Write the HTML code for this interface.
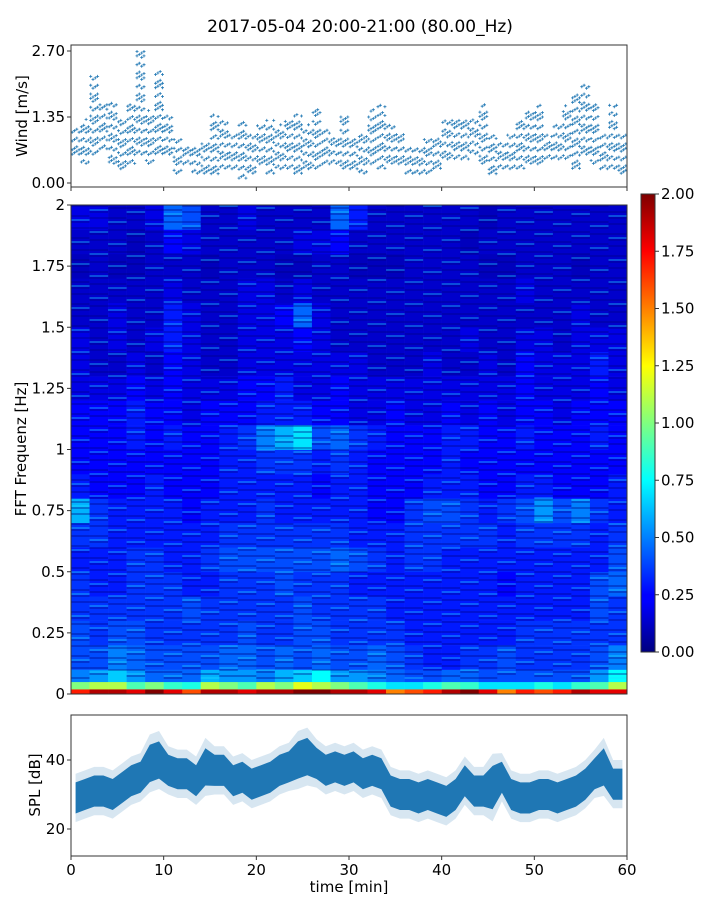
<!DOCTYPE html>
<html><head><meta charset="utf-8"><style>
body{margin:0;background:#fff;}
text{font-family:"DejaVu Sans","Liberation Sans",sans-serif;fill:#000;}
</style></head><body>
<svg id="fig" width="720" height="900" viewBox="0 0 720 900" xmlns="http://www.w3.org/2000/svg">
<defs>
<linearGradient id="jetg" x1="0" y1="1" x2="0" y2="0">
<stop offset="0" stop-color="#00007f"/><stop offset="0.11" stop-color="#0000ff"/><stop offset="0.125" stop-color="#0000ff"/>
<stop offset="0.375" stop-color="#00ffff"/><stop offset="0.625" stop-color="#ffff00"/><stop offset="0.875" stop-color="#ff0000"/><stop offset="1" stop-color="#7f0000"/>
</linearGradient>
</defs>
<text x="360" y="32" font-size="17" text-anchor="middle">2017-05-04 20:00-21:00 (80.00_Hz)</text>
<g id="wind"></g>
<g id="spec"></g>
<g id="cbar"></g>
<g id="spl"></g>
</svg>
<script>
// ---------- data ----------
const windLo=[0.5,0.4,0.5,0.7,0.4,0.2,0.4,0.5,0.4,0.6,0.5,0.2,0.3,0.2,0.2,0.1,0.3,0.2,0.1,0.2,0.3,0.2,0.2,0.3,0.2,0.2,0.3,0.3,0.4,0.3,0.2,0.2,0.3,0.3,0.4,0.3,0.2,0.1,0.2,0.3,0.4,0.5,0.4,0.6,0.4,0.1,0.3,0.2,0.3,0.4,0.3,0.5,0.4,0.5,0.3,0.5,0.4,0.2,0.3,0.2];
const windHi=[1.1,1.3,2.2,1.6,1.7,1.3,1.6,2.7,1.5,2.3,1.4,0.9,0.8,0.8,0.8,1.4,1.3,1.0,1.3,1.0,1.2,1.3,1.2,1.3,1.4,1.2,1.5,1.1,1.0,1.4,1.0,1.0,1.5,1.6,1.2,1.0,0.8,0.8,0.9,1.0,1.3,1.3,1.3,1.4,1.6,1.0,0.9,1.0,1.3,1.5,1.6,1.0,1.2,1.6,1.8,2.0,1.6,1.0,1.6,1.0];
const windTicks=["0.00","1.35","2.70"];
const windTickVals=[0,1.35,2.7];
const freqEdges=[0,0.02,0.05,0.1,0.2,0.3,0.4,0.5,0.6,0.7,0.8,0.9,1.0,1.1,1.2,1.3,1.4,1.5,1.6,1.7,1.8,1.9,2.0];
const specRows=[
[1.7,1.9,1.9,1.8,2,1.8,1.6,1.9,1.9,1.8,1.9,1.9,2,2,1.9,1.9,1.8,1.5,1.6,1.7,1.9,2,1.8,1.5,1.7,1.6,1.7,1.9,1.8,1.8],
[1.0,1.1,1.1,0.9,1.0,0.85,0.8,1.1,1.0,0.9,1.1,1.0,1.2,1.1,1.0,0.9,0.8,.7,.7,0.8,0.9,0.85,.7,.7,.7,0.8,.7,0.85,0.9,1.1],
[.5,.55,.65,.55,.45,.45,.45,.6,.55,.55,.5,.6,.65,.75,.55,.55,.5,.45,.4,.4,.45,.45,.4,.4,.4,.4,.4,.4,.55,.75],
[.4,.4,.5,.45,.4,.4,.4,.4,.45,.45,.4,.45,.4,.45,.4,.4,.45,.4,.35,.3,.3,.35,.35,.4,.35,.35,.35,.35,.4,.5],
[.4,.35,.4,.4,.35,.35,.35,.35,.35,.4,.35,.35,.4,.4,.35,.35,.35,.35,.3,.3,.3,.3,.3,.3,.35,.35,.35,.35,.35,.35],
[.35,.35,.35,.35,.35,.35,.4,.35,.35,.35,.35,.35,.4,.35,.35,.35,.35,.3,.3,.3,.3,.3,.3,.3,.3,.3,.3,.3,.4,.35],
[.35,.3,.3,.35,.35,.35,.3,.3,.35,.35,.35,.4,.35,.35,.35,.3,.3,.3,.3,.3,.3,.3,.3,.25,.3,.3,.3,.3,.4,.45],
[.3,.3,.3,.35,.35,.3,.3,.35,.4,.4,.4,.4,.4,.4,.45,.4,.35,.3,.35,.35,.3,.3,.3,.3,.3,.3,.3,.3,.3,.4],
[.35,.35,.3,.3,.3,.3,.3,.3,.35,.35,.35,.35,.35,.35,.35,.3,.3,.3,.35,.35,.35,.35,.35,.3,.35,.35,.35,.35,.3,.35],
[.6,.35,.3,.3,.3,.3,.25,.3,.3,.3,.35,.3,.3,.3,.3,.3,.25,.25,.35,.4,.4,.35,.3,.35,.4,.55,.4,.5,.35,.3],
[.3,.25,.25,.25,.3,.25,.25,.25,.3,.3,.3,.3,.3,.25,.3,.3,.25,.25,.25,.3,.3,.3,.25,.25,.3,.3,.25,.25,.25,.3],
[.25,.25,.25,.25,.25,.25,.25,.25,.3,.3,.35,.35,.35,.3,.35,.3,.25,.25,.25,.25,.3,.25,.25,.25,.25,.25,.25,.25,.25,.25],
[.25,.25,.25,.3,.25,.3,.25,.25,.3,.35,.5,.6,.7,.4,.45,.35,.3,.25,.25,.25,.3,.3,.25,.25,.3,.25,.25,.25,.3,.25],
[.25,.25,.25,.3,.25,.25,.2,.25,.25,.25,.3,.3,.3,.25,.25,.2,.2,.25,.2,.2,.25,.2,.25,.2,.25,.25,.2,.25,.25,.25],
[.2,.2,.2,.25,.2,.25,.2,.2,.2,.25,.25,.3,.2,.2,.25,.2,.2,.2,.2,.2,.2,.2,.2,.2,.25,.2,.2,.2,.25,.2],
[.2,.15,.15,.2,.15,.25,.2,.15,.15,.2,.2,.2,.2,.2,.2,.2,.15,.15,.15,.2,.15,.15,.2,.15,.25,.2,.2,.2,.3,.2],
[.2,.15,.2,.15,.2,.3,.2,.15,.15,.2,.2,.2,.25,.2,.15,.15,.15,.15,.15,.15,.15,.2,.15,.15,.2,.2,.15,.2,.2,.2],
[.15,.15,.2,.15,.15,.3,.2,.15,.15,.2,.2,.25,.45,.2,.15,.15,.15,.15,.15,.15,.15,.15,.15,.15,.15,.15,.15,.2,.15,.15],
[.15,.15,.15,.15,.15,.2,.15,.15,.15,.2,.2,.15,.2,.15,.15,.15,.15,.15,.15,.15,.15,.15,.15,.15,.2,.15,.15,.15,.15,.15],
[.12,.15,.12,.12,.15,.15,.15,.12,.15,.15,.15,.12,.12,.15,.15,.12,.12,.12,.15,.15,.15,.15,.12,.12,.15,.15,.15,.12,.15,.15],
[.15,.15,.15,.12,.15,.25,.2,.15,.15,.15,.15,.15,.2,.2,.25,.15,.15,.15,.15,.15,.15,.12,.15,.15,.15,.15,.15,.15,.15,.15],
[.2,.2,.15,.15,.2,.45,.4,.15,.15,.2,.15,.15,.15,.15,.45,.3,.15,.15,.15,.15,.15,.15,.12,.15,.15,.15,.15,.15,.15,.15]];
const freqTicks=["0","0.25","0.5","0.75","1","1.25","1.5","1.75","2"];
const freqTickVals=[0,0.25,0.5,0.75,1,1.25,1.5,1.75,2];
const cbarTicks=["0.00","0.25","0.50","0.75","1.00","1.25","1.50","1.75","2.00"];
const cbarTickVals=[0,0.25,0.5,0.75,1,1.25,1.5,1.75,2];
const splMean=[29,30,31,31,30,32,34,35,39,40,37,36,36,34,38,37,37,34,35,33,34,35,37,38,40,41,39,37,38,37,38,36,37,36,31,30,30,29,30,29,28,30,34,31,31,32,35,30,29,29,30,30,29,30,31,33,36,38,33,33];
const splSpread=[5,5,5,5,5,5,5,5,6,6,5,5,5,5,6,5,5,5,5,5,5,5,5,5,6,6,5,5,5,5,5,5,5,5,5,5,5,5,5,5,5,5,5,5,5,7,5,5,5,5,5,5,5,5,5,5,5,6,5,5];
const splTicks=["20","40"];
const splTickVals=[20,40];
const timeTicks=["0","10","20","30","40","50","60"];
const timeTickVals=[0,10,20,30,40,50,60];

// ---------- scales ----------
const X0=71,X1=627;
const xs=t=>X0+t/60*(X1-X0);
const yWind=v=>183-v*(183-51)/2.7;
const ySpec=f=>694-f*(694-205)/2;
const yCb=v=>652-v*(652-194)/2;
const ySpl=d=>829-(d-20)*(829-760)/20;
const NS='http://www.w3.org/2000/svg';
function mk(tag,attrs,parent){const e=document.createElementNS(NS,tag);for(const k in attrs)e.setAttribute(k,attrs[k]);parent.appendChild(e);return e;}
function jet(v){let x=Math.max(0,Math.min(1,v/2));
 const c=a=>Math.round(255*Math.max(0,Math.min(1,a)));
 const r=c(Math.min(4*x-1.5,-4*x+4.5)),g=c(Math.min(4*x-0.5,-4*x+3.5)),b=c(Math.min(4*x+0.5,-4*x+2.5));
 return `rgb(${r},${g},${b})`;}

// ---------- wind ----------
const gw=document.getElementById('wind');
const wp=[];
for(let i=0;i<windLo.length;i++){
 for(let k=0;k<4;k++){
  const t=i+k/4+0.125;
  const off=((i+k)%3)*0.03;
  let j=0;
  for(let v=windLo[i]+off;v<=windHi[i]+1e-6;v+=0.09,j++){
   if((i*3+k*5+j*7)%5<2)continue;
   const x=xs(t),y=yWind(v);
   wp.push(`M${(x-1.5).toFixed(1)} ${y.toFixed(1)}h3M${x.toFixed(1)} ${(y-1.5).toFixed(1)}v3`);
  }
 }
}
const wpath=mk('path',{d:wp.join(''),stroke:'#1f77b4','stroke-width':'0.8',fill:'none'},gw);


const wf=mk('rect',{x:X0,y:45,width:X1-X0,height:142,fill:'none',stroke:'#333','stroke-width':'1'},gw);


windTickVals.forEach((v,i)=>{const y=yWind(v);
 mk('line',{x1:X0-4,x2:X0,y1:y,y2:y,stroke:'#333'},gw);
 const t=mk('text',{x:X0-6,y:y+5,'font-size':'15','text-anchor':'end'},gw);t.textContent=windTicks[i];
 
 });
timeTickVals.forEach(v=>{mk('line',{x1:xs(v),x2:xs(v),y1:187,y2:191,stroke:'#333'},gw);});
const wl=mk('text',{x:0,y:0,'font-size':'15','text-anchor':'middle',transform:'translate(27,116) rotate(-90)'},gw);wl.textContent='Wind [m/s]';



// ---------- spectrogram ----------
const gs=document.getElementById('spec');
const nc=specRows[0].length;
specRows.forEach((row,r)=>{
 const y0=ySpec(freqEdges[r+1]),y1=ySpec(freqEdges[r]);
 row.forEach((v,c)=>{
  const xa=xs(c*60/nc),xb=xs((c+1)*60/nc);
  const cell=mk('rect',{x:xa.toFixed(2),y:y0.toFixed(2),width:(xb-xa+0.3).toFixed(2),height:(y1-y0+0.3).toFixed(2),fill:jet(v)},gs);
  
  
 });
});
// streak texture overlay (decorative)
const stD=[],stL=[];
for(let y=206,n=0;y<680;y+=2,n++){
 for(let c=0;c<nc;c++){
  const h=(n*7+c*13)%11;
  const xa=xs(c*60/nc),xb=xs((c+1)*60/nc);
  if(h<3)stD.push(`M${xa.toFixed(1)} ${y}H${xb.toFixed(1)}`);
  else if(h===5)stL.push(`M${xa.toFixed(1)} ${y}H${xb.toFixed(1)}`);
 }
}
mk('path',{d:stD.join(''),stroke:'#000080','stroke-width':'2','stroke-opacity':'0.35',fill:'none'},gs);
mk('path',{d:stL.join(''),stroke:'#20e0ff','stroke-width':'1.5','stroke-opacity':'0.45',fill:'none'},gs);
const sf=mk('rect',{x:X0,y:205,width:X1-X0,height:489,fill:'none',stroke:'#333','stroke-width':'1'},gs);


freqTickVals.forEach((v,i)=>{const y=ySpec(v);
 mk('line',{x1:X0-4,x2:X0,y1:y,y2:y,stroke:'#333'},gs);
 const t=mk('text',{x:X0-6,y:y+5,'font-size':'15','text-anchor':'end'},gs);t.textContent=freqTicks[i];
 
 });
const sl=mk('text',{x:0,y:0,'font-size':'15','text-anchor':'middle',transform:'translate(26,449) rotate(-90)'},gs);sl.textContent='FFT Frequenz [Hz]';



// ---------- colorbar ----------
const gc=document.getElementById('cbar');
const cr=mk('rect',{x:641,y:194,width:14,height:458,fill:'url(#jetg)',stroke:'#333','stroke-width':'1'},gc);


cbarTickVals.forEach((v,i)=>{const y=yCb(v);
 mk('line',{x1:655,x2:659,y1:y,y2:y,stroke:'#333'},gc);
 const t=mk('text',{x:661,y:y+5,'font-size':'15'},gc);t.textContent=cbarTicks[i];
 
 });

// ---------- SPL ----------
const gp=document.getElementById('spl');
function band(mult,fill,op,name){
 let top=[],bot=[];
 splMean.forEach((m,i)=>{const x=xs(i+0.5);top.push(`${x.toFixed(1)},${ySpl(m+splSpread[i]*mult).toFixed(1)}`);bot.unshift(`${x.toFixed(1)},${ySpl(m-splSpread[i]*mult).toFixed(1)}`);});
 const p=mk('polygon',{points:top.concat(bot).join(' '),fill:fill,'fill-opacity':op},gp);
 
 
}
band(1.4,'#1f77b4','0.18','spl-outer-band');
band(0.9,'#1f77b4','1','spl-band');
const pf=mk('rect',{x:X0,y:715,width:X1-X0,height:141,fill:'none',stroke:'#333','stroke-width':'1'},gp);


splTickVals.forEach((v,i)=>{const y=ySpl(v);
 mk('line',{x1:X0-4,x2:X0,y1:y,y2:y,stroke:'#333'},gp);
 const t=mk('text',{x:X0-6,y:y+5,'font-size':'15','text-anchor':'end'},gp);t.textContent=splTicks[i];
 
 });
timeTickVals.forEach((v,i)=>{const x=xs(v);
 mk('line',{x1:x,x2:x,y1:856,y2:860,stroke:'#333'},gp);
 const t=mk('text',{x:x,y:875,'font-size':'15','text-anchor':'middle'},gp);t.textContent=timeTicks[i];
 
 });
const xl=mk('text',{x:349,y:892,'font-size':'15','text-anchor':'middle'},gp);xl.textContent='time [min]';


const pl=mk('text',{x:0,y:0,'font-size':'15','text-anchor':'middle',transform:'translate(40,785) rotate(-90)'},gp);pl.textContent='SPL [dB]';


</script>
</body></html>
